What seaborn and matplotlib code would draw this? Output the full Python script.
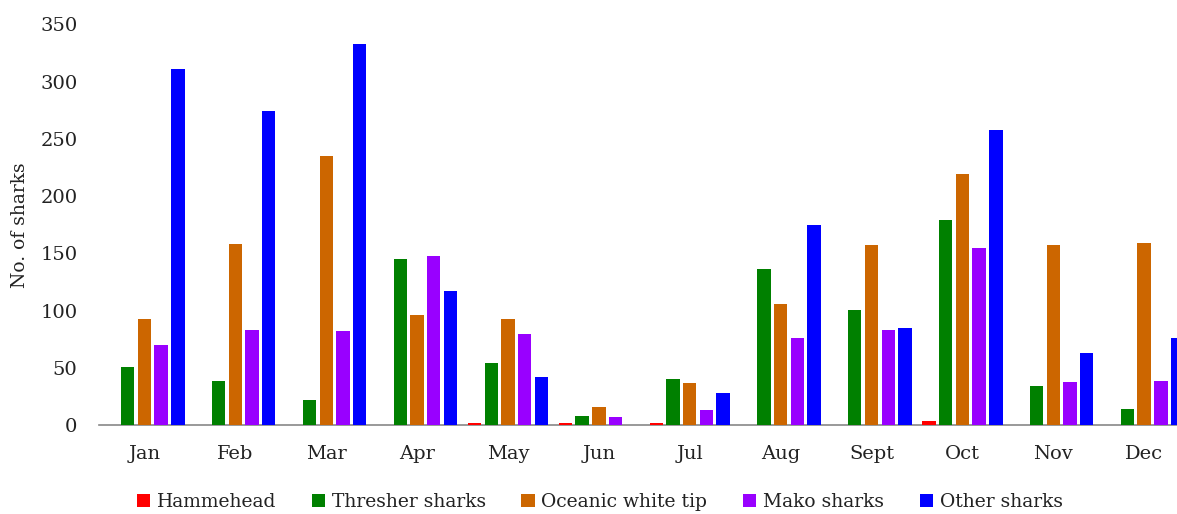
import matplotlib
matplotlib.use("Agg")
import matplotlib.pyplot as plt
import seaborn as sns
import pandas as pd

months = ["Jan", "Feb", "Mar", "Apr", "May", "Jun",
          "Jul", "Aug", "Sept", "Oct", "Nov", "Dec"]
series = ["Hammehead", "Thresher sharks", "Oceanic white tip",
          "Mako sharks", "Other sharks"]

hammerhead = [0, 0, 0, 0, 2, 2, 2, 0, 0, 4, 0, 0]
thresher = [51, 39, 22, 145, 54, 8, 40, 136, 101, 179, 34, 14]
oceanic = [93, 158, 235, 96, 93, 16, 37, 106, 157, 219, 157, 159]
mako = [70, 83, 82, 148, 80, 7, 13, 76, 83, 155, 38, 39]
other = [311, 274, 333, 117, 42, 0, 28, 175, 85, 258, 63, 76]

colors = ["#FF0000", "#008000", "#CC6600", "#9900FF", "#0000FF"]

values = [hammerhead, thresher, oceanic, mako, other]
df = pd.DataFrame({
    "Month": [m for _ in series for m in months],
    "Series": [s for s in series for _ in months],
    "Count": [v for vals in values for v in vals],
})

sns.set_theme(style="white")
plt.rcParams["font.family"] = ["DejaVu Serif"]

fig = plt.figure(figsize=(11.77, 5.14), dpi=100)
ax = fig.add_axes([0.0841, 0.17257, 0.9266, 0.7802])

sns.barplot(data=df, x="Month", y="Count", hue="Series",
            order=months, hue_order=series, palette=colors,
            width=0.92, gap=0.2, saturation=1, errorbar=None,
            linewidth=0, ax=ax, legend=True)

# keep the bars above the baseline rule so the tiny counts stay visible
for bar in ax.patches:
    bar.set_zorder(3)

ax.set_ylim(0, 350)
ax.set_xlim(-0.5, 11.5)
ax.set_yticks([0, 50, 100, 150, 200, 250, 300, 350])
ax.set_xlabel("")
ax.set_ylabel("No. of sharks", fontsize=13.5, color="#222222", labelpad=8)

for side in ["top", "right", "left"]:
    ax.spines[side].set_visible(False)
ax.spines["bottom"].set_color("#888888")
ax.spines["bottom"].set_linewidth(1.2)

ax.tick_params(axis="x", length=0, pad=14, labelsize=14, labelcolor="#222222")
ax.tick_params(axis="y", length=0, pad=15.5, labelsize=14, labelcolor="#222222")

handles, labels = ax.get_legend_handles_labels()
ax.legend_.remove()
fig.legend(handles, labels, loc="center", ncol=5,
           bbox_to_anchor=(0.5095, 0.0234), frameon=False,
           fontsize=13.5, handlelength=0.7, handleheight=0.68,
           handletextpad=0.37, columnspacing=1.9,
           labelcolor="#222222")

fig.savefig("out.png", dpi=100)
